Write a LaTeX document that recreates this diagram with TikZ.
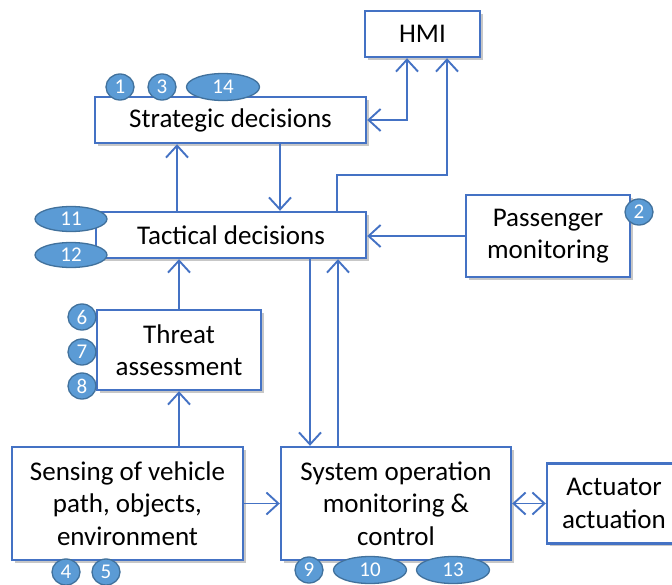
\documentclass[tikz,border=0pt]{standalone}
\usepackage{fontspec}
\setmainfont{Carlito}
\usetikzlibrary{arrows.meta,shadows,shapes.geometric}
\definecolor{lineblue}{HTML}{4472C4}
\definecolor{badgefill}{HTML}{5B9BD5}
\definecolor{badgeedge}{HTML}{41719C}
\tikzset{
  blk/.style={draw=lineblue, line width=2.4pt, fill=white, align=center,
    inner sep=0pt, font=\fontsize{27}{32.5}\selectfont,
    drop shadow={shadow xshift=2.5pt, shadow yshift=-2.5pt, fill=black, opacity=0.22}},
  tip/.tip={Straight Barb[length=12pt,width=22pt,line width=1.9pt]},
  link/.style={draw=lineblue, line width=1.9pt, -tip},
  linkboth/.style={link, tip-tip},
  badge/.style={ellipse, draw=badgeedge, line width=1.3pt, fill=badgefill, text=white,
    inner sep=0pt, minimum width=28pt, minimum height=26pt, font=\fontsize{21}{21}\selectfont},
  widebadge/.style={badge, minimum width=73pt, minimum height=27pt}
}
\begin{document}
\begin{tikzpicture}[x=1pt, y=-1pt]
\useasboundingbox (0,0) rectangle (672,584);
\clip (0,0) rectangle (672,584);

% functional blocks
\node[blk, minimum width=115pt, minimum height=46pt] (hmi) at (422.5,34) {HMI};
\node[blk, minimum width=271pt, minimum height=46pt] (str) at (230.5,120) {Strategic decisions};
\node[blk, minimum width=270pt, minimum height=46pt] (tac) at (231,235) {Tactical decisions};
\node[blk, minimum width=164pt, minimum height=82pt] (pas) at (548,236) {Passenger\\monitoring};
\node[blk, minimum width=164pt, minimum height=80pt] (thr) at (179,350) {Threat\\assessment};
\node[blk, minimum width=231pt, minimum height=113pt] (sen) at (127.5,503.5) {Sensing of vehicle\\path, objects,\\environment};
\node[blk, minimum width=230pt, minimum height=113pt] (sys) at (396,503.5) {System operation\\monitoring \&\\control};
\node[blk, minimum width=134pt, minimum height=80pt] (act) at (614,503.5) {Actuator\\actuation};

% information flow
\draw[link] ([xshift=-54pt]tac.north) -- ([xshift=-54pt]tac.north |- str.south);
\draw[link] ([xshift=49.5pt]str.south) -- ([xshift=49.5pt]str.south |- tac.north);
\draw[linkboth] (str.east) -| ([xshift=-15.5pt]hmi.south);
\draw[link] ([xshift=106pt]tac.north) -- ++(0,-36) -| ([xshift=24.5pt]hmi.south);
\draw[link] (pas.west) -- (pas.west -| tac.east);
\draw[link] ([xshift=-86pt]sys.north |- tac.south) -- ([xshift=-86pt]sys.north);
\draw[link] ([xshift=-58pt]sys.north) -- ([xshift=-58pt]sys.north |- tac.south);
\draw[link] (thr.north) -- (thr.north |- tac.south);
\draw[link] (thr.south |- sen.north) -- (thr.south);
\draw[link] (sen.east) -- (sen.east -| sys.west);
\draw[linkboth] (sys.east) -- (sys.east -| act.west);

% numbered references
\node[badge] (b1) at (120,87) {1};
\node[badge] (b3) at (162,87) {3};
\node[widebadge] (b14) at (223,87) {14};
\node[widebadge, minimum width=72pt, minimum height=25pt] (b11) at (71,219) {11};
\node[widebadge, minimum width=72pt, minimum height=25pt] (b12) at (71,255) {12};
\node[badge] (b2) at (639,212) {2};
\node[badge] (b6) at (82,317) {6};
\node[badge] (b7) at (82,352) {7};
\node[badge] (b8) at (82,386) {8};
\node[badge] (b4) at (66,572) {4};
\node[badge] (b5) at (106,572) {5};
\node[badge] (b9) at (309,570) {9};
\node[widebadge] (b10) at (370,570) {10};
\node[widebadge] (b13) at (453,570) {13};
\end{tikzpicture}
\end{document}
